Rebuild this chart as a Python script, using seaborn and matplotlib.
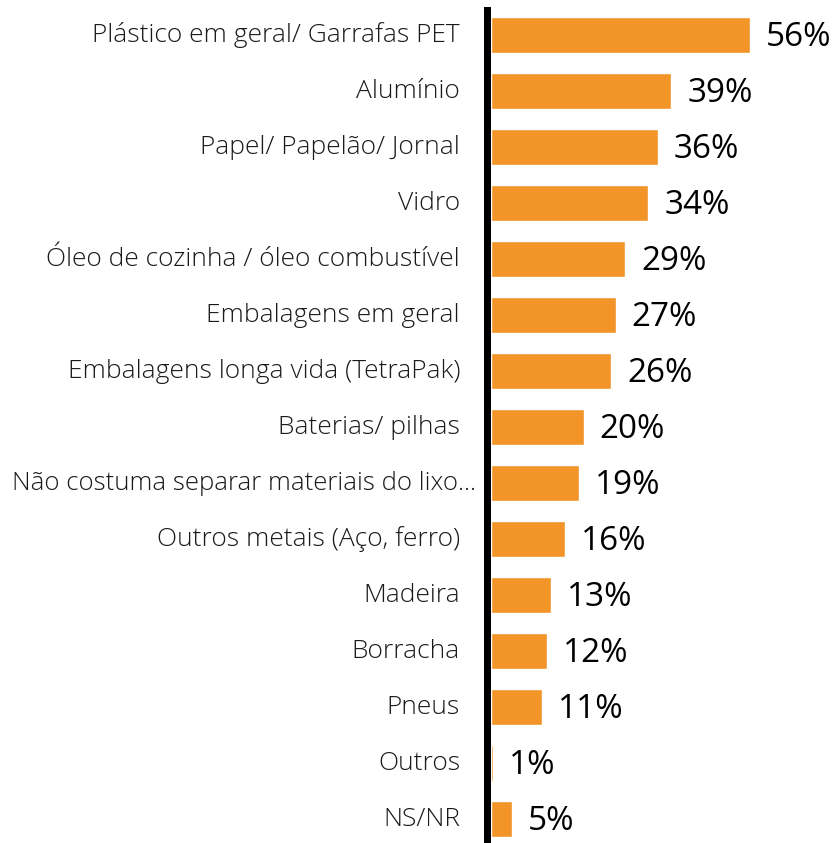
import matplotlib
matplotlib.use("Agg")
import matplotlib.pyplot as plt
import matplotlib.transforms as mtransforms
from matplotlib.patches import Rectangle
import seaborn as sns
import pandas as pd

categories = [
    "Plástico em geral/ Garrafas PET",
    "Alumínio",
    "Papel/ Papelão/ Jornal",
    "Vidro",
    "Óleo de cozinha / óleo combustível",
    "Embalagens em geral",
    "Embalagens longa vida (TetraPak)",
    "Baterias/ pilhas",
    "Não costuma separar materiais do lixo...",
    "Outros metais (Aço, ferro)",
    "Madeira",
    "Borracha",
    "Pneus",
    "Outros",
    "NS/NR",
]
values = [56, 39, 36, 34, 29, 27, 26, 20, 19, 16, 13, 12, 11, 0.5, 4.6]
value_labels = ["56%", "39%", "36%", "34%", "29%", "27%", "26%", "20%", "19%",
                "16%", "13%", "12%", "11%", "1%", "5%"]

df = pd.DataFrame({"cat": categories, "val": values})

sns.set_theme(style="white")
plt.rcParams["font.family"] = ["Open Sans", "DejaVu Sans"]

W, H = 835, 843
fig = plt.figure(figsize=(W / 100, H / 100), dpi=100)
left_px = 491
top_px = 7
ax = fig.add_axes([left_px / W, 0, (W - left_px) / W, (H - top_px) / H])

sns.barplot(data=df, x="val", y="cat", orient="h", color="#F39428",
            saturation=1, width=0.63, ax=ax)

px_per_unit = 4.625
ax.set_xlim(0, (W - left_px) / px_per_unit)
ax.set_ylim(14 + (H - 819) / 56.0, -0.5)
for s in ax.spines.values():
    s.set_visible(False)
ax.set_xticks([])
ax.set_yticks([])
ax.set_xlabel("")
ax.set_ylabel("")

# axis line
fig.patches.append(Rectangle((484 / W, 0), 7 / W, (H - top_px) / H,
                             transform=fig.transFigure, facecolor="black",
                             edgecolor="none", zorder=5))

renderer = fig.canvas.get_renderer()


def fit_size(text, target_px, base=14, **kw):
    t = fig.text(0, 0, text, fontsize=base, **kw)
    w = t.get_window_extent(renderer).width
    t.remove()
    return base * target_px / w


cat_weight = "light"
cat_size = fit_size(categories[0], 370, fontweight=cat_weight)
long_size = fit_size(categories[8], 464, fontweight=cat_weight)
val_size = fit_size("56%", 66)

ax_w = W - left_px
trans = mtransforms.blended_transform_factory(ax.transAxes, ax.transData)
for i, cat in enumerate(categories):
    special = cat.startswith("Não costuma")
    off = 15 if special else 31
    ax.text(-off / ax_w, i, cat, transform=trans, ha="right", va="center",
            fontsize=long_size if special else cat_size, color="#1a1a1a",
            fontweight=cat_weight, clip_on=False)

for i, (v, lab) in enumerate(zip(values, value_labels)):
    ax.annotate(lab, xy=(v, i), xytext=(11.5, -1.5), textcoords="offset points",
                ha="left", va="center", fontsize=val_size, color="black",
                annotation_clip=False)

fig.savefig("out.png", dpi=100)
